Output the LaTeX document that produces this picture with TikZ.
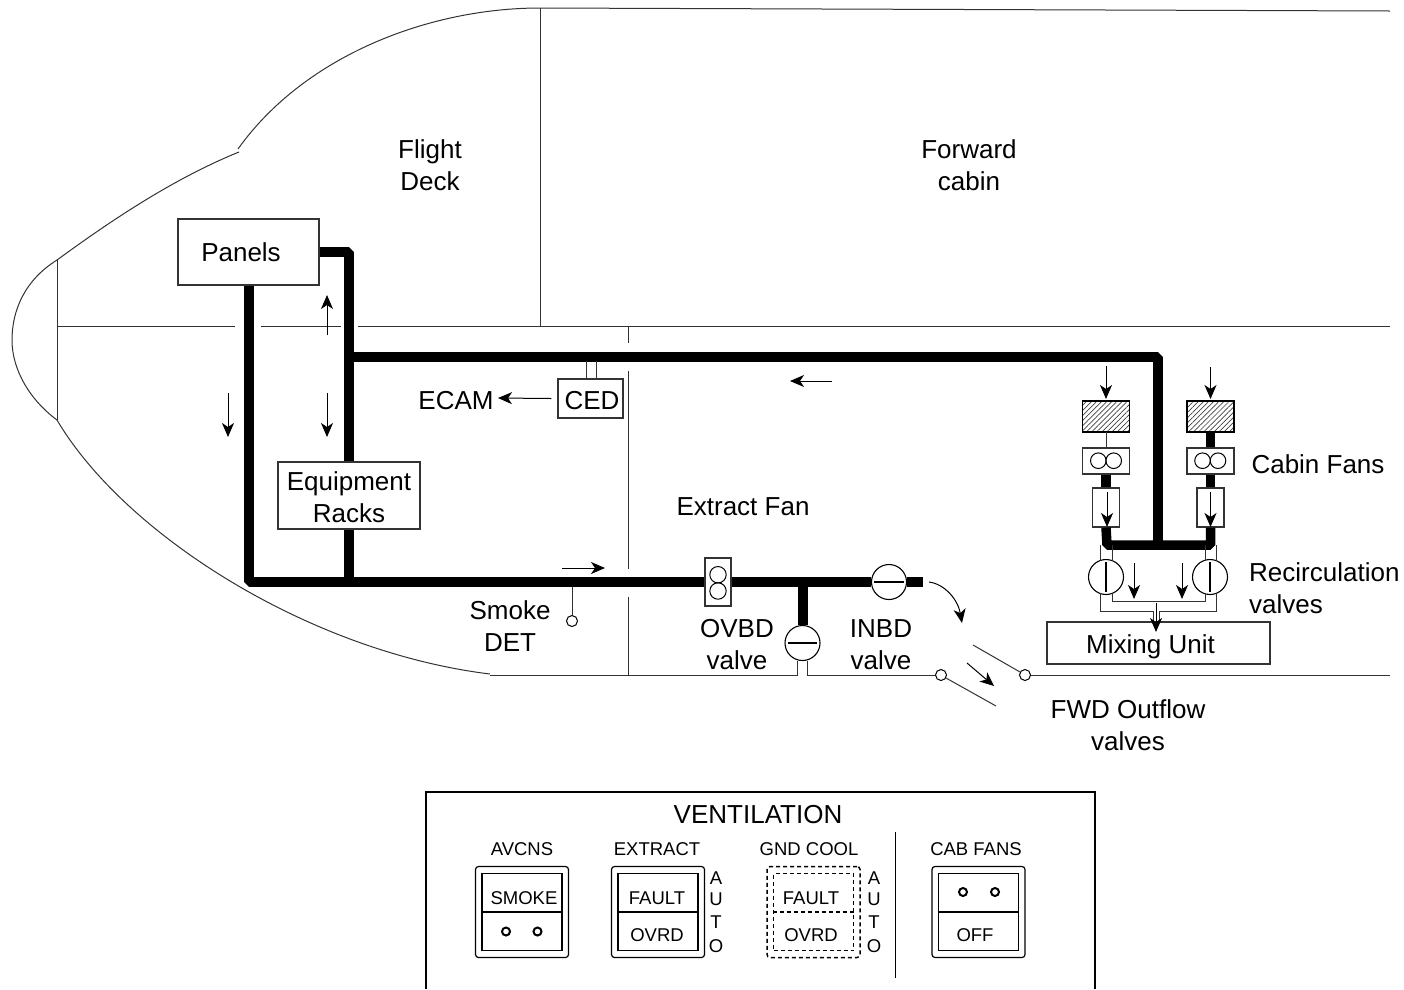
\documentclass[tikz,border=0pt]{standalone}
\usepackage{fontspec}
\setmainfont{Liberation Sans}
\usepackage{xcolor}
\usetikzlibrary{arrows.meta,positioning,calc,patterns.meta}
\definecolor{lgray}{HTML}{333333}
\newcommand{\droptext}[1]{\smash{\raisebox{-10.5pt}{#1}}}
\tikzset{
  % Outlines and ducts of the ventilation layout.
  blk/.style   = {rectangle, draw=lgray, fill=white, line width=1.2pt, inner sep=0pt, align=center, font=\fontsize{26}{32}\selectfont},
  lbl/.style   = {font=\fontsize{26}{32}\selectfont, text=black, align=center, inner sep=0pt},
  small/.style = {font=\fontsize{18.5}{23}\selectfont, text=black, align=center, inner sep=0pt},
  hull/.style  = {draw=lgray, line width=1pt},
  duct/.style  = {line width=10pt, black, line join=bevel},
  arr/.style   = {-{Stealth[length=14pt,width=12pt,inset=4pt]}, line width=1pt, black},
  valve/.style = {circle, draw=black, fill=white, line width=1.1pt, minimum size=35pt, inner sep=0pt},
  pt/.style    = {circle, draw=black, fill=white, line width=1pt, minimum size=11pt, inner sep=0pt},
  dot/.style   = {circle, draw=black, line width=2pt, minimum size=8pt, inner sep=0pt},
  filt/.style  = {rectangle, draw=black, line width=1.2pt, pattern={Lines[angle=45,distance=3.6pt,line width=0.7pt]}, pattern color=black!75, minimum width=47pt, minimum height=31pt, inner sep=0pt},
  sw/.style    = {rectangle, draw=black, line width=1.2pt, minimum width=80pt, minimum height=77pt, inner sep=0pt},
  swo/.style   = {rectangle, rounded corners=3pt, draw=black, line width=1.2pt, minimum width=93pt, minimum height=91pt, inner sep=0pt},
}
\begin{document}
\begin{tikzpicture}[x=1pt,y=-1pt]
\useasboundingbox (0,0) rectangle (1404,989);
% hull
\draw[hull] (238,149) .. controls (305,55) and (430,8) .. (540,8) -- (1390,11);
\draw[hull] (239,152) .. controls (170,180) and (105,225) .. (57,260)
  .. controls (25,280) and (12,310) .. (12,340) .. controls (12,370) and (30,400) .. (57,420)
  .. controls (125,535) and (310,652) .. (490,674);
\draw[hull] (57,260) -- (57,420);
\draw[hull] (57,326) -- (235,326) (261,326) -- (341,326) (358,326) -- (1390,326);
\draw[hull] (540,8) -- (540,326);
\draw[hull] (628,326) -- (628,343) (628,371) -- (628,569) (628,597) -- (628,675);
% boxes
\node[blk, minimum width=141pt, minimum height=66pt] (panels) at (248.5,252) {Panels\hspace{15pt}};
\node[blk, minimum width=142pt, minimum height=67pt] (racks) at (349,495.5) {\droptext{Equipment}\\\droptext{Racks}};
\node[blk, minimum width=65pt, minimum height=39pt] (ced) at (590.5,398.5) {\droptext{\hspace{3pt}CED}};
\node[blk, minimum width=26pt, minimum height=48pt] (ovfan) at (718,582) {};
\node[blk, minimum width=223pt, minimum height=42pt] (mixing) at (1158.5,643) {\droptext{Mixing Unit\hspace{16pt}}};
\node[valve] (inbd) at (889,582) {};
\node[valve] (ovbd) at (802.5,643) {};
\node[valve] (recl) at (1106,577) {};
\node[valve] (recr) at (1210,577) {};
\node[pt] (det) at (572,621) {};
\node[pt] (outa) at (941,675) {};
\node[pt] (outb) at (1025,675) {};
\foreach \nm/\cx in {l/1106,r/1210.5}{
  \node[filt] (filt\nm) at (\cx,416.5) {};
  \node[blk, minimum width=47pt, minimum height=26pt] (fan\nm) at (\cx,461) {};
  \node[blk, minimum width=27pt, minimum height=39pt] (box\nm) at (\cx,507.5) {};
}
% ducts
\coordinate (tr) at (349,252);
\coordinate (bl) at (248.5,582);
\coordinate (br) at (349,582);
\coordinate (ductend) at (923,582);
\coordinate (top) at (349,356.5);
\coordinate (topr) at (1158,356.5);
\coordinate (mixl) at (1107,545);
\coordinate (mixr) at (1210.5,545);
\coordinate (mixm) at (1158,545);
\coordinate (tee) at (802.5,582);
\draw[duct] (panels.east) -- (tr) -- (racks.north);
\draw[duct] (panels.south) -- (bl) -- (ovfan.west);
\draw[duct] (racks.south) -- (br);
\draw[duct] (ovfan.east) -- (inbd.west);
\draw[duct] (inbd.east) -- (ductend);
\draw[duct] (tee) -- (ovbd.north);
\draw[duct] (top) -- (topr) -- (mixm);
\draw[duct, line width=9.5pt] (boxl.south) -- (mixl) -- (mixr) -- (boxr.south);
\draw[duct, line width=9.5pt] (fanl.south) -- (boxl.north);
\draw[duct, line width=9.5pt] (fanr.south) -- (boxr.north);
\draw[duct, line width=9.5pt] (filtr.south) -- (fanr.north);
\draw[hull] (filtl.south) -- (fanl.north);
\foreach \nm in {inbd,ovbd}
  {\draw[line width=1.2pt] ([xshift=3.5pt]\nm.west) -- ([xshift=-3.5pt]\nm.east);}
\foreach \nm in {recl,recr}
  {\draw[line width=1.2pt] ([yshift=-3.5pt]\nm.north) -- ([yshift=3.5pt]\nm.south);}
% fan circles
\foreach \cy in {574.7,591}
  {\draw[line width=1pt] (718,\cy) circle (8.2);}
\foreach \cx in {1098.3,1113.7,1202.5,1218}
  {\draw[line width=1pt] (\cx,460.7) circle (7.8);}
% thin pipes
\draw[hull] (586,361) -- (586,379) (596,361) -- (596,379);
\draw[hull] (572,587) -- (det.north);
\draw[hull] (1100,545) -- (1100,561) (1112,545) -- (1112,561) (1205,545) -- (1205,561) (1216,545) -- (1216,561);
\draw[hull] (1112,593) -- (1112,601) -- (1205,601) -- (1205,593);
\draw[hull] (1100,593) -- (1100,611) -- (1153,611) -- (1153,622);
\draw[hull] (1216,593) -- (1216,611) -- (1159,611) -- (1159,622);
% floor and outflow
\draw[hull] (490,675) -- (797,675) -- (ovbd.south -| 797,0);
\draw[hull] (outa.west) -- (807,675) -- (ovbd.south -| 807,0);
\draw[hull] (outb.east) -- (1390,675);
\draw[hull] (outa) ++(5,3) -- (996,706);
\draw[hull] (outb) ++(-5,-3) -- (973,645);
% flow arrows
\draw[arr] (327,335) -- (327,295);
\draw[arr] (327,393) -- (327,437);
\draw[arr] (228,393) -- (228,437);
\draw[arr] (832,381) -- (790,381);
\draw[arr] (562,568) -- (605,568);
\draw[arr] (ced.west) ++(-6,0) -- (498,398);
\draw[arr] (1106,366) -- (1106,399);
\draw[arr] (1210.5,367) -- (1210.5,399);
\draw[arr] (1107,492) -- (1107,527);
\draw[arr] (1210.5,492) -- (1210.5,527);
\draw[arr] (1134,563) -- (1134,599);
\draw[arr] (1182,563) -- (1182,599);
\draw[arr] (1156,603) -- (1156,632);
\draw[arr] (929,582) .. controls (945,584) and (958,600) .. (962,623);
\draw[arr] (967,663) -- (994,686);
% labels
\node[lbl] (lflight) at (430,165) {Flight\\Deck};
\node[lbl] (lforward) at (969,165) {Forward\\cabin};
\node[lbl] (lecam) at (456,401) {ECAM};
\node[lbl] (lextract) at (743,507) {Extract Fan};
\node[lbl] (lsmoke) at (510,626) {Smoke\\DET};
\node[lbl] (lovbd) at (737,645) {OVBD\\valve};
\node[lbl] (linbd) at (881,645) {INBD\\valve};
\node[lbl] (lfans) at (1318,464) {Cabin Fans};
\node[lbl, anchor=west, align=left] (lrecirc) at (1249,588) {Recirculation\\valves};
\node[lbl] (loutflow) at (1128,725) {FWD Outflow\\valves};
% ventilation panel
\draw[line width=1.1pt] (426,989) -- (426,792) -- (1095,792) -- (1095,989);
\node[lbl] (lvent) at (758,815) {VENTILATION};
\draw[line width=1.4pt] (895.5,832) -- (895.5,978);
\foreach \nm/\cx in {avcns/522,extract/658,cabfans/978.5}{
  \node[swo] (\nm) at (\cx,912) {};
  \node[sw] (\nm in) at (\cx,912) {};
  \draw[line width=1.2pt] (\nm in.west) -- (\nm in.east);
}
\node[swo, dashed, dash pattern=on 4pt off 3pt, line width=1.5pt] (gnd) at (813.5,912) {};
\node[sw, dashed, dash pattern=on 4pt off 3pt, line width=1.5pt] (gnd in) at (813.5,912) {};
\draw[dash pattern=on 4pt off 3pt, line width=1.5pt] (gnd in.west) -- (gnd in.east);
\node[small] (tavcns) at (522,849) {AVCNS};
\node[small] (textract) at (657,849) {EXTRACT};
\node[small] (tgnd) at (809,849) {GND COOL};
\node[small] (tcab) at (976,849) {CAB FANS};
\node[small] (tsmoke) at (524,898) {SMOKE};
\node[small] (tfa) at (657,898) {FAULT};
\node[small] (tov) at (657,935) {OVRD};
\node[small] (tfb) at (811,898) {FAULT};
\node[small] (tow) at (811,935) {OVRD};
\node[small] (toff) at (975,935) {OFF};
\foreach \cx/\cy in {506/931.5,537.5/931.5,963/892,995/892}
  {\node[dot] at (\cx,\cy) {};}
\foreach \cx in {716,874}{
  \foreach \ch/\cy in {A/878,U/899,T/922,O/946}
    {\node[small] at (\cx,\cy) {\ch};}
}
\end{tikzpicture}
\end{document}
